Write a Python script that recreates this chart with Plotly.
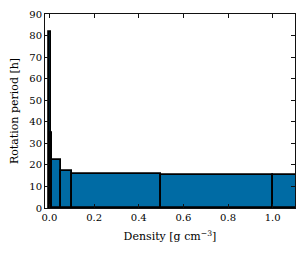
import plotly.graph_objects as go

bin_left = [0.0, 0.005, 0.01, 0.05, 0.1, 0.5, 1.0]
bin_right = [0.005, 0.01, 0.05, 0.1, 0.5, 1.0, 1.5]
periods = [81.6, 35.0, 22.3, 17.3, 15.8, 15.4, 15.1]
x_ticks = [0.0, 0.2, 0.4, 0.6, 0.8, 1.0]
y_ticks = [0, 10, 20, 30, 40, 50, 60, 70, 80, 90]

centers = [(a + b) / 2 for a, b in zip(bin_left, bin_right)]
widths = [b - a for a, b in zip(bin_left, bin_right)]

fig = go.Figure()
fig.add_trace(go.Bar(
    x=centers, y=periods, width=widths,
    marker=dict(color="#006BA4", line=dict(color="black", width=1.8)),
))

font = "DejaVu Serif"
axis_common = dict(
    showgrid=False, zeroline=False, showline=True, mirror="ticks",
    linecolor="#111", linewidth=1, ticks="inside", ticklen=4, tickcolor="#111",
    tickfont=dict(family=font, size=10, color="black"), automargin=False,
)
fig.update_xaxes(range=[-0.02, 1.1], tickvals=x_ticks,
                 ticktext=[f"{v:.1f}" for v in x_ticks],
                 title=dict(text="Density [g cm<sup>−3</sup>]", font=dict(family=font, size=11, color="black"), standoff=10),
                 **axis_common)
fig.update_yaxes(range=[0, 90], tickvals=y_ticks,
                 title=dict(text="Rotation period [h]", font=dict(family=font, size=11, color="black"), standoff=8),
                 **axis_common)
fig.update_layout(
    width=297, height=246, margin=dict(l=37, r=10, t=6, b=46),
    plot_bgcolor="white", paper_bgcolor="white", showlegend=False, bargap=0,
    font=dict(family=font),
)
fig.write_html("out.html")
